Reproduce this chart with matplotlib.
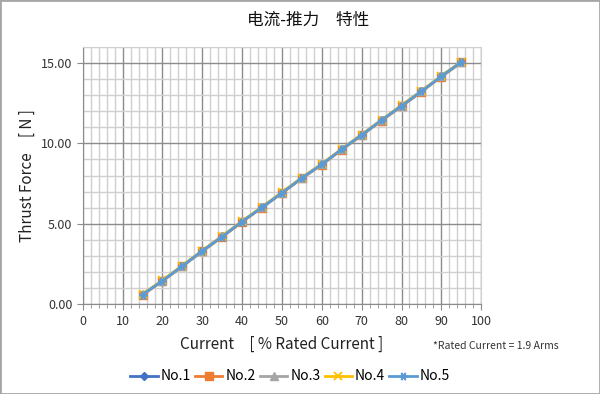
import matplotlib
matplotlib.use("Agg")
import matplotlib.pyplot as plt
from matplotlib.ticker import MultipleLocator, FormatStrFormatter
from matplotlib.patches import Rectangle

current = [15, 20, 25, 30, 35, 40, 45, 50, 55, 60, 65, 70, 75, 80, 85, 90, 95]
no1 = [0.60, 1.46, 2.38, 3.31, 4.21, 5.14, 6.03, 6.93, 7.85, 8.70, 9.63, 10.53, 11.44, 12.34, 13.24, 14.17, 15.05]
no2 = [0.58, 1.44, 2.36, 3.29, 4.19, 5.12, 6.01, 6.91, 7.83, 8.68, 9.61, 10.50, 11.42, 12.31, 13.21, 14.15, 15.03]
no3 = [0.61, 1.47, 2.39, 3.32, 4.22, 5.15, 6.04, 6.94, 7.86, 8.71, 9.64, 10.54, 11.45, 12.35, 13.25, 14.18, 15.06]
no4 = [0.62, 1.48, 2.40, 3.33, 4.23, 5.16, 6.05, 6.95, 7.87, 8.72, 9.65, 10.55, 11.46, 12.36, 13.26, 14.19, 15.07]
no5 = [0.60, 1.45, 2.37, 3.31, 4.20, 5.14, 6.02, 6.92, 7.85, 8.69, 9.63, 10.52, 11.44, 12.33, 13.23, 14.17, 15.05]
series_names = ["No.1", "No.2", "No.3", "No.4", "No.5"]
title_text = "电流-推力　特性"
xlabel_text = "Current　[ % Rated Current ]"
ylabel_text = "Thrust Force　[ N ]"
note_text = "*Rated Current = 1.9 Arms"

plt.rcParams['font.family'] = ['Noto Sans CJK SC', 'DejaVu Sans']

fig = plt.figure(figsize=(6.0, 3.94), dpi=100)
fig.patches.append(Rectangle((0, 0), 1, 1, transform=fig.transFigure, fill=False,
                             edgecolor='#a6a6a6', linewidth=2.0))
ax = fig.add_axes([0.138, 0.228, 0.664, 0.653])

styles = [
    dict(color='#4472C4', marker='D', ms=4),
    dict(color='#ED7D31', marker='s', ms=6),
    dict(color='#A5A5A5', marker='^', ms=6),
    dict(color='#FFC000', marker='x', ms=6, mew=1.3),
    dict(color='#5B9BD5', marker=(6, 2, 90), ms=6, mew=1.2),
]
for data, name, st in zip([no1, no2, no3, no4, no5], series_names, styles):
    ax.plot(current, data, label=name, linewidth=2.0, **st)

ax.set_xlim(0, 100)
ax.set_ylim(0, 16)
ax.xaxis.set_major_locator(MultipleLocator(10))
ax.xaxis.set_minor_locator(MultipleLocator(2))
ax.yaxis.set_major_locator(MultipleLocator(5))
ax.yaxis.set_minor_locator(MultipleLocator(1))
ax.yaxis.set_major_formatter(FormatStrFormatter('%.2f'))

ax.grid(which='major', color='#8c8c8c', linewidth=1.0)
ax.grid(which='minor', color='#d0d0d0', linewidth=1.0)
ax.set_axisbelow(True)
for s in ['top', 'right']:
    ax.spines[s].set_color('#d0d0d0')
for s in ['left', 'bottom']:
    ax.spines[s].set_color('#8c8c8c')

ax.tick_params(axis='both', which='major', labelsize=9, color='#8c8c8c', labelcolor='#333333', length=4)
ax.tick_params(axis='x', which='minor', color='#8c8c8c', length=3)
ax.tick_params(axis='y', which='minor', length=0)

ax.set_xlabel(xlabel_text, fontsize=11, color='#222222', labelpad=6)
ax.set_ylabel(ylabel_text, fontsize=11, color='#222222', labelpad=4)
fig.text(0.513, 0.948, title_text, ha='center', va='center', fontsize=12, color='#111111')
fig.text(0.722, 0.122, note_text, ha='left', va='center', fontsize=7.5, color='#333333')

ax.legend(loc='upper center', bbox_to_anchor=(0.52, -0.205), ncol=5, frameon=False,
          fontsize=10, handlelength=2.0, handletextpad=0.2, columnspacing=0.3)

fig.savefig('out.png', dpi=100)
